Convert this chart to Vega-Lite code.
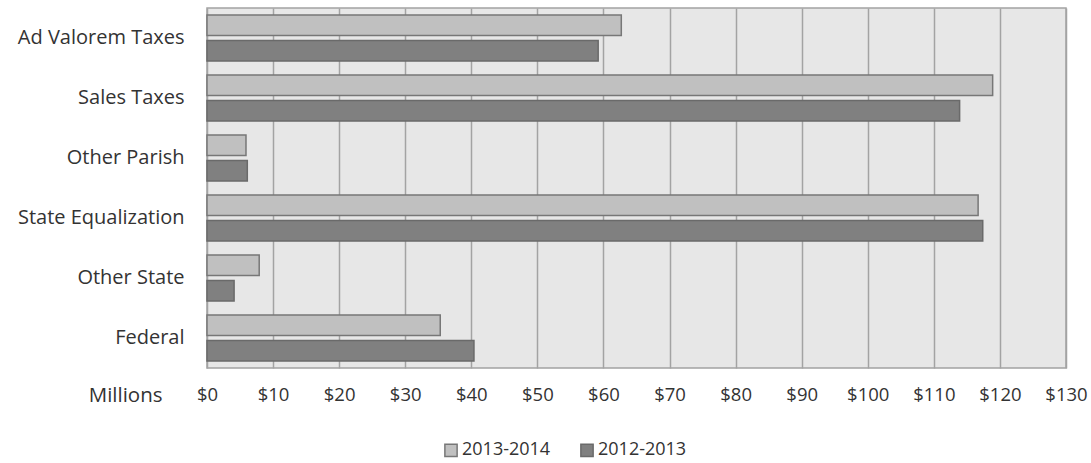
{
  "$schema": "https://vega.github.io/schema/vega-lite/v6.json",
  "width": 859,
  "height": 360,
  "autosize": {"type": "none"},
  "padding": {"left": 207, "top": 8, "right": 25, "bottom": 95},
  "background": "white",
  "config": {
    "view": {"fill": "#e7e7e7", "stroke": "#a3a3a3", "strokeWidth": 1.5},
    "font": "Open Sans",
    "axis": {"labelColor": "#333333", "titleColor": "#333333"},
    "legend": {"labelColor": "#333333"}
  },
  "data": {
    "values": [
      {"category": "Ad Valorem Taxes", "year": "2013-2014", "value": 62.7},
      {"category": "Ad Valorem Taxes", "year": "2012-2013", "value": 59.2},
      {"category": "Sales Taxes", "year": "2013-2014", "value": 118.9},
      {"category": "Sales Taxes", "year": "2012-2013", "value": 113.9},
      {"category": "Other Parish", "year": "2013-2014", "value": 5.9},
      {"category": "Other Parish", "year": "2012-2013", "value": 6.1},
      {"category": "State Equalization", "year": "2013-2014", "value": 116.7},
      {"category": "State Equalization", "year": "2012-2013", "value": 117.4},
      {"category": "Other State", "year": "2013-2014", "value": 7.9},
      {"category": "Other State", "year": "2012-2013", "value": 4.1},
      {"category": "Federal", "year": "2013-2014", "value": 35.3},
      {"category": "Federal", "year": "2012-2013", "value": 40.4}
    ]
  },
  "mark": {"type": "bar", "strokeWidth": 1.5},
  "encoding": {
    "y": {
      "field": "category",
      "type": "nominal",
      "sort": ["Ad Valorem Taxes", "Sales Taxes", "Other Parish", "State Equalization", "Other State", "Federal"],
      "scale": {"paddingInner": 0.233, "paddingOuter": 0.117},
      "axis": {"title": null, "domain": false, "ticks": false, "grid": false, "labelFontSize": 20, "labelPadding": 23}
    },
    "yOffset": {
      "field": "year",
      "type": "nominal",
      "sort": ["2013-2014", "2012-2013"],
      "scale": {"paddingInner": 0.2, "paddingOuter": 0}
    },
    "x": {
      "field": "value",
      "type": "quantitative",
      "scale": {"domain": [0, 130], "nice": false},
      "axis": {
        "values": [0, 10, 20, 30, 40, 50, 60, 70, 80, 90, 100, 110, 120, 130],
        "format": "$d",
        "grid": true,
        "gridColor": "#a3a3a3",
        "gridWidth": 1.5,
        "domain": false,
        "ticks": false,
        "labelFlush": false,
        "labelOverlap": false,
        "labelFontSize": 18.5,
        "labelPadding": 17,
        "title": "Millions",
        "titleFontSize": 20.5,
        "titleFontWeight": "normal",
        "titleAnchor": "start",
        "titleAlign": "right",
        "titleBaseline": "middle",
        "titleX": -45,
        "titleY": 27
      }
    },
    "color": {
      "field": "year",
      "type": "nominal",
      "sort": ["2013-2014", "2012-2013"],
      "scale": {"domain": ["2013-2014", "2012-2013"], "range": ["#c0c0c0", "#808080"]},
      "legend": {
        "title": null,
        "orient": "none",
        "direction": "horizontal",
        "legendX": 235,
        "legendY": 433,
        "symbolType": "square",
        "symbolSize": 150,
        "symbolStrokeWidth": 1.5,
        "labelFontSize": 18,
        "labelOffset": 2,
        "columnPadding": 26
      }
    },
    "stroke": {
      "field": "year",
      "type": "nominal",
      "scale": {"domain": ["2013-2014", "2012-2013"], "range": ["#777777", "#6a6a6a"]}
    }
  }
}
